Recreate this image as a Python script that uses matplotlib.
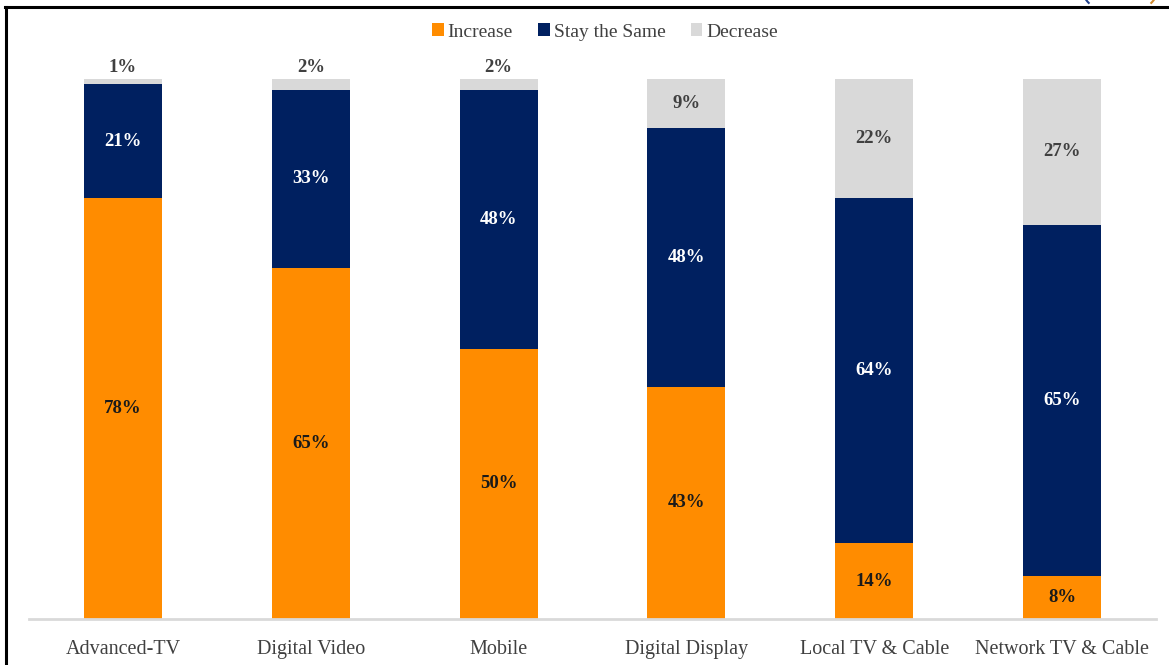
import numpy as np
import matplotlib.pyplot as plt
from matplotlib.lines import Line2D
from matplotlib.patches import Arc

plt.rcParams['font.family'] = ['Liberation Serif', 'DejaVu Serif']

categories = ['Advanced-TV', 'Digital Video', 'Mobile', 'Digital Display',
              'Local TV & Cable', 'Network TV & Cable']
increase = [78, 65, 50, 43, 14, 8]
same = [21, 33, 48, 48, 64, 65]
decrease = [1, 2, 2, 9, 22, 27]

c_inc = '#FF8C00'
c_same = '#002060'
c_dec = '#D9D9D9'

fig = plt.figure(figsize=(11.69, 6.65), dpi=100)
ax = fig.add_axes([29/1169, 1-619/665, 1127/1169, 540/665])

x = np.arange(len(categories))
w = 0.416
inc = np.array(increase)
sm = np.array(same)
dec = np.array(decrease)

b1 = ax.bar(x, inc, w, color=c_inc, label='Increase')
b2 = ax.bar(x, sm, w, bottom=inc, color=c_same, label='Stay the Same')
b3 = ax.bar(x, dec, w, bottom=inc+sm, color=c_dec, label='Decrease')

fs = 13.5
for i in range(len(x)):
    ax.text(x[i], inc[i]/2, f'{inc[i]}%', ha='center', va='center',
            fontsize=fs, fontweight='bold', color='#1a1a1a')
    ax.text(x[i], inc[i] + sm[i]/2, f'{sm[i]}%', ha='center', va='center',
            fontsize=fs, fontweight='bold', color='white')
    if dec[i] < 5:
        ax.text(x[i], 100 + 0.6, f'{dec[i]}%', ha='center', va='bottom',
                fontsize=fs, fontweight='bold', color='#404040')
    else:
        ax.text(x[i], inc[i] + sm[i] + dec[i]/2, f'{dec[i]}%', ha='center',
                va='center', fontsize=fs, fontweight='bold', color='#404040')

ax.set_xlim(-0.5, len(x) - 0.5)
ax.set_ylim(0, 100)
ax.set_yticks([])
ax.set_xticks(x)
ax.set_xticklabels(categories, fontsize=14.5, color='#404040')
ax.tick_params(axis='x', length=0, pad=15)
for s in ['top', 'right', 'left']:
    ax.spines[s].set_visible(False)
ax.spines['bottom'].set_color('#D9D9D9')
ax.spines['bottom'].set_linewidth(2)

fig.legend(handles=[b1, b2, b3], loc='center', bbox_to_anchor=(605/1169, 1-32/665),
           ncol=3, frameon=False, fontsize=14, labelcolor='#404040',
           handlelength=0.6, handleheight=0.6, handletextpad=0.2, columnspacing=1.3)

# frame border of the original slide
fig.add_artist(Line2D([5.5/1169, 5.5/1169], [0, 1-7/665], color='black', lw=2.2,
                      transform=fig.transFigure))
fig.add_artist(Line2D([5/1169, 1], [1-7/665, 1-7/665], color='black', lw=2.2,
                      transform=fig.transFigure))
# cut-off oval in the top right corner
ell = dict(xy=(1120/1169, 1+15/665), width=78/1169, height=60/665, lw=1.5,
           transform=fig.transFigure)
fig.add_artist(Arc(theta1=210, theta2=227, color='#1f3f8a', **ell))
fig.add_artist(Arc(theta1=313, theta2=330, color='#d08a30', **ell))

fig.savefig('out.png', dpi=100)
